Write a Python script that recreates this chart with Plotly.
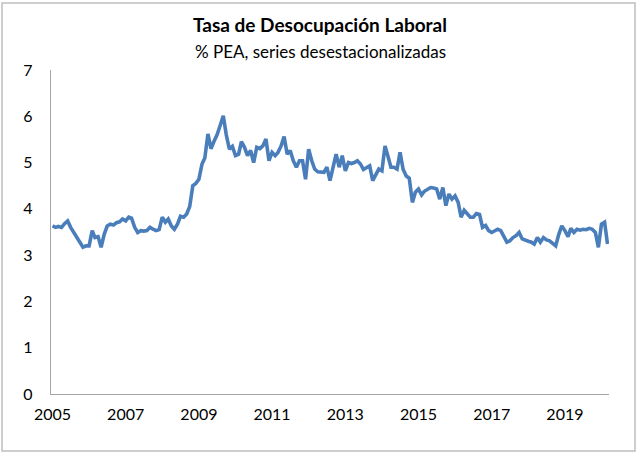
# Tasa de desocupación laboral (mensual, desestacionalizada)
import pandas as pd
import plotly.graph_objects as go

# ==== Data (% of PEA) ====
rate_2005 = [3.63, 3.60, 3.62, 3.60, 3.68, 3.74, 3.60, 3.50, 3.40, 3.30, 3.17, 3.20]
rate_2006 = [3.20, 3.53, 3.38, 3.40, 3.17, 3.45, 3.63, 3.67, 3.65, 3.70, 3.72, 3.78]
rate_2007 = [3.74, 3.82, 3.80, 3.60, 3.49, 3.53, 3.52, 3.53, 3.60, 3.56, 3.53, 3.55]
rate_2008 = [3.82, 3.71, 3.78, 3.63, 3.56, 3.67, 3.84, 3.82, 3.89, 4.05, 4.50, 4.55]
rate_2009 = [4.64, 4.97, 5.10, 5.62, 5.30, 5.46, 5.60, 5.80, 6.01, 5.60, 5.29, 5.35]
rate_2010 = [5.15, 5.18, 5.45, 5.33, 5.15, 5.26, 5.00, 5.33, 5.30, 5.36, 5.51, 5.04]
rate_2011 = [5.22, 5.15, 5.22, 5.36, 5.56, 5.18, 5.26, 5.04, 4.90, 5.04, 5.04, 4.64]
rate_2012 = [5.29, 5.04, 4.86, 4.80, 4.79, 4.79, 4.90, 4.61, 4.90, 5.18, 4.90, 5.15]
rate_2013 = [4.82, 5.00, 4.98, 5.00, 5.04, 4.97, 4.85, 4.90, 4.93, 4.61, 4.75, 4.86]
rate_2014 = [4.82, 5.36, 5.15, 4.90, 4.90, 4.86, 5.22, 4.85, 4.71, 4.66, 4.14, 4.36]
rate_2015 = [4.43, 4.30, 4.38, 4.43, 4.46, 4.45, 4.43, 4.21, 4.46, 4.07, 4.32, 4.21]
rate_2016 = [4.28, 4.14, 3.82, 3.97, 3.90, 3.82, 3.82, 3.90, 3.88, 3.60, 3.64, 3.53]
rate_2017 = [3.49, 3.52, 3.56, 3.53, 3.40, 3.28, 3.31, 3.38, 3.42, 3.49, 3.35, 3.32]
rate_2018 = [3.30, 3.28, 3.24, 3.38, 3.28, 3.38, 3.33, 3.31, 3.26, 3.20, 3.45, 3.63]
rate_2019 = [3.53, 3.40, 3.58, 3.49, 3.56, 3.54, 3.56, 3.55, 3.58, 3.56, 3.49, 3.17]
rate_2020 = [3.67, 3.71, 3.24]

rate = (rate_2005 + rate_2006 + rate_2007 + rate_2008 + rate_2009 + rate_2010
        + rate_2011 + rate_2012 + rate_2013 + rate_2014 + rate_2015 + rate_2016
        + rate_2017 + rate_2018 + rate_2019 + rate_2020)
months = pd.date_range("2005-01-01", periods=len(rate), freq="MS")

title = "<b>Tasa de Desocupación Laboral</b>"
subtitle = "% PEA, series desestacionalizadas"

FONT = "Lato"
AXIS_GREY = "#a6a6a6"

# ==== Figure ====
fig = go.Figure()
fig.add_trace(go.Scatter(
    x=months, y=rate, mode="lines",
    line=dict(color="#4a7ebb", width=3.6),
    hoverinfo="x+y",
))

fig.update_layout(
    width=637, height=454,
    margin=dict(l=51, r=28, t=70, b=60),
    paper_bgcolor="white", plot_bgcolor="white",
    showlegend=False,
    font=dict(family=FONT, color="black"),
)

# title + subtitle as annotations (pixel control)
fig.add_annotation(
    text=title, xref="paper", yref="paper", x=269 / 558, y=370 / 324,
    xanchor="center", yanchor="middle", showarrow=False,
    font=dict(size=19, family=FONT, color="black"),
)
fig.add_annotation(
    text=subtitle, xref="paper", yref="paper", x=269 / 558, y=342 / 324,
    xanchor="center", yanchor="middle", showarrow=False,
    font=dict(size=17, family=FONT, color="black"),
)

fig.update_xaxes(
    range=["2004-12-17", "2020-03-16"],
    tick0="2005-01-01", dtick="M24", tickformat="%Y",
    showgrid=False, zeroline=False,
    showline=True, linecolor=AXIS_GREY, linewidth=1.3,
    ticks="", tickfont=dict(size=16, color="black"),
    ticklabelstandoff=6,
)
fig.update_yaxes(
    range=[0, 7], dtick=1,
    showgrid=False, zeroline=False,
    showline=True, linecolor=AXIS_GREY, linewidth=1.3,
    ticks="", tickfont=dict(size=16, color="black"),
    ticklabelstandoff=14,
)

# thin grey frame around the whole chart
fig.add_shape(
    type="rect", xref="paper", yref="paper",
    x0=-49 / 558, x1=584 / 558, y0=-57 / 324, y1=391 / 324,
    line=dict(color="#bfbfbf", width=1.5), fillcolor="rgba(0,0,0,0)",
)

fig.write_html("out.html", config={"displayModeBar": False},
               post_script="document.body.style.margin='0';")
